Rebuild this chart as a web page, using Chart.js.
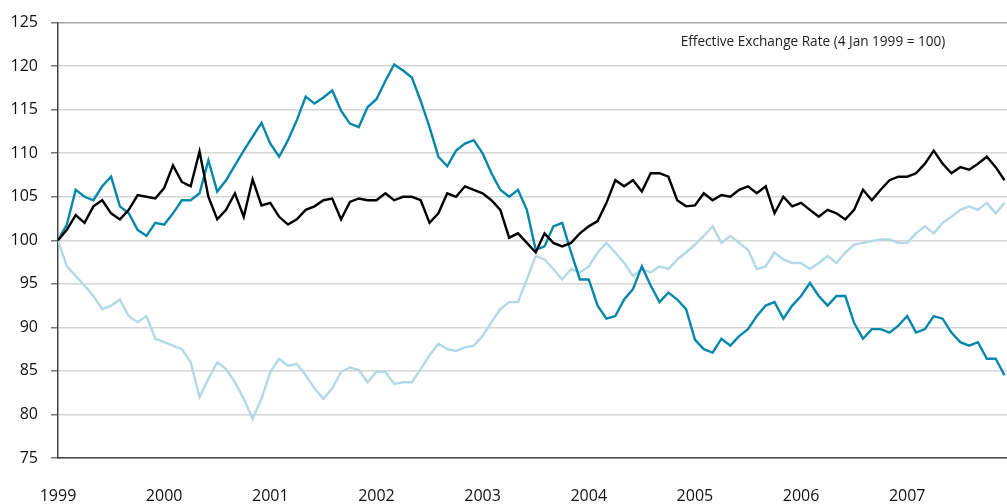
<!DOCTYPE html>
<html>
<head>
<meta charset="utf-8">
<script src="https://cdn.jsdelivr.net/npm/chart.js@4"></script>
<style>
  html, body { margin: 0; padding: 0; background: #fff; }
  #wrap { width: 1007px; height: 504px; position: relative; }
</style>
</head>
<body>
<div id="wrap"><canvas id="chart"></canvas></div>
<script>
// Monthly readings, Jan 1999 .. Dec 2007 (index 0 = Jan 1999)
const startYear = 1999;
const yearTicks = [1999, 2000, 2001, 2002, 2003, 2004, 2005, 2006, 2007];

const blackSeries = [
  100, 101.2, 102.9, 102, 103.9, 104.6, 103.1, 102.4, 103.5, 105.2, 105, 104.8,
  106, 108.6, 106.7, 106.2, 110.2, 105, 102.4, 103.5, 105.4, 102.7, 107, 104,
  104.3, 102.7, 101.8, 102.4, 103.5, 103.9, 104.6, 104.8, 102.4, 104.4, 104.8, 104.6,
  104.6, 105.4, 104.6, 105, 105, 104.6, 102, 103.1, 105.4, 105, 106.2, 105.8,
  105.4, 104.6, 103.5, 100.3, 100.8, 99.7, 98.6, 100.8, 99.7, 99.3, 99.7, 100.8,
  101.6, 102.2, 104.3, 106.9, 106.2, 106.9, 105.6, 107.7, 107.7, 107.3, 104.6, 103.9,
  104, 105.4, 104.6, 105.2, 105, 105.8, 106.2, 105.4, 106.2, 103.1, 105, 103.9,
  104.3, 103.5, 102.7, 103.5, 103.1, 102.4, 103.5, 105.8, 104.6, 105.8, 106.9, 107.3,
  107.3, 107.7, 108.8, 110.3, 108.8, 107.7, 108.4, 108.1, 108.8, 109.6, 108.4, 106.9
];

const tealSeries = [
  100, 101.8, 105.8, 105, 104.6, 106.2, 107.3, 103.9, 103.1, 101.2, 100.5, 102,
  101.8, 103.1, 104.6, 104.6, 105.4, 109.2, 105.6, 106.9, 108.6, 110.3, 111.9, 113.5,
  111.1, 109.6, 111.5, 113.8, 116.5, 115.7, 116.4, 117.2, 114.9, 113.4, 113, 115.3,
  116.2, 118.3, 120.2, 119.5, 118.7, 116, 113, 109.6, 108.5, 110.3, 111.1, 111.5,
  110, 107.7, 105.8, 105, 105.8, 103.5, 98.9, 99.3, 101.6, 102, 98.6, 95.5,
  95.5, 92.5, 91, 91.3, 93.2, 94.4, 97, 94.8, 92.9, 94, 93.2, 92.1,
  88.6, 87.5, 87.1, 88.7, 87.9, 89, 89.8, 91.3, 92.5, 92.9, 91, 92.5,
  93.6, 95.1, 93.6, 92.5, 93.6, 93.6, 90.5, 88.7, 89.8, 89.8, 89.4, 90.2,
  91.3, 89.4, 89.8, 91.3, 91, 89.4, 88.3, 87.9, 88.3, 86.4, 86.4, 84.5
];

const lightSeries = [
  100, 97, 95.9, 94.8, 93.6, 92.1, 92.5, 93.2, 91.3, 90.6, 91.3, 88.7,
  88.3, 87.9, 87.5, 86, 82, 84.1, 86, 85.2, 83.7, 81.8, 79.5, 81.8,
  84.9, 86.4, 85.6, 85.8, 84.5, 83, 81.8, 83, 84.9, 85.4, 85.1, 83.7,
  84.9, 84.9, 83.5, 83.7, 83.7, 85.2, 86.8, 88.1, 87.5, 87.3, 87.7, 87.9,
  89, 90.6, 92.1, 92.9, 92.9, 95.5, 98.2, 97.8, 96.7, 95.5, 96.7, 96.3,
  97, 98.6, 99.7, 98.6, 97.4, 95.9, 96.7, 96.3, 97, 96.7, 97.8, 98.6,
  99.5, 100.5, 101.6, 99.7, 100.5, 99.7, 98.9, 96.7, 97, 98.6, 97.8, 97.4,
  97.4, 96.7, 97.4, 98.2, 97.4, 98.6, 99.5, 99.7, 99.9, 100.1, 100.1, 99.7,
  99.7, 100.8, 101.6, 100.8, 102, 102.7, 103.5, 103.9, 103.5, 104.3, 103.1, 104.3
];

const noteText = "Effective Exchange Rate (4 Jan 1999 = 100)";

function toPoints(values) {
  return values.map((v, i) => ({ x: startYear + i / 12, y: v }));
}

// Annotation in top right corner
const notePlugin = {
  id: "note",
  afterDraw(chart) {
    const ctx = chart.ctx;
    ctx.save();
    ctx.font = "13.6px 'Open Sans', sans-serif";
    ctx.fillStyle = "#222";
    ctx.textAlign = "center";
    ctx.textBaseline = "middle";
    ctx.fillText(noteText, 813, 42);
    ctx.restore();
  },
};

const ctx = document.getElementById("chart").getContext("2d");
new Chart(ctx, {
  type: "line",
  data: {
    datasets: [
      { data: toPoints(blackSeries), borderColor: "#000000", borderWidth: 2.4 },
      { data: toPoints(tealSeries), borderColor: "#0487ab", borderWidth: 2.4 },
      { data: toPoints(lightSeries), borderColor: "#b2d9e5", borderWidth: 2.4 },
    ],
  },
  options: {
    responsive: true,
    maintainAspectRatio: false,
    animation: false,
    layout: { padding: { top: 22, right: 0, left: 0, bottom: 0 } },
    elements: { point: { radius: 0 }, line: { tension: 0 } },
    plugins: { legend: { display: false }, tooltip: { enabled: false } },
    scales: {
      x: {
        type: "linear",
        min: 1999,
        max: 2007.94,
        afterFit: (s) => { s.height = 46; },
        grid: { display: false, drawTicks: false },
        border: { display: true, color: "#444", width: 1.5 },
        ticks: {
          stepSize: 1,
          includeBounds: false,
          padding: 29,
          maxRotation: 0,
          autoSkip: false,
          color: "#111",
          font: { family: "'Open Sans', sans-serif", size: 16 },
          callback: (v) => (yearTicks.includes(v) ? String(v) : ""),
        },
      },
      y: {
        min: 75,
        max: 125,
        afterFit: (s) => { s.width = 58; },
        grid: {
          color: (c) => (c.tick && c.tick.value === 125 ? "#a8a8a8" : "#d6d6d6"),
          lineWidth: 1.5,
          tickColor: "#777",
          tickLength: 7,
        },
        border: { display: true, color: "#444", width: 1.5 },
        ticks: {
          stepSize: 5,
          padding: 13,
          color: "#111",
          font: { family: "'Open Sans', sans-serif", size: 16 },
        },
      },
    },
  },
  plugins: [notePlugin],
});
</script>
</body>
</html>
